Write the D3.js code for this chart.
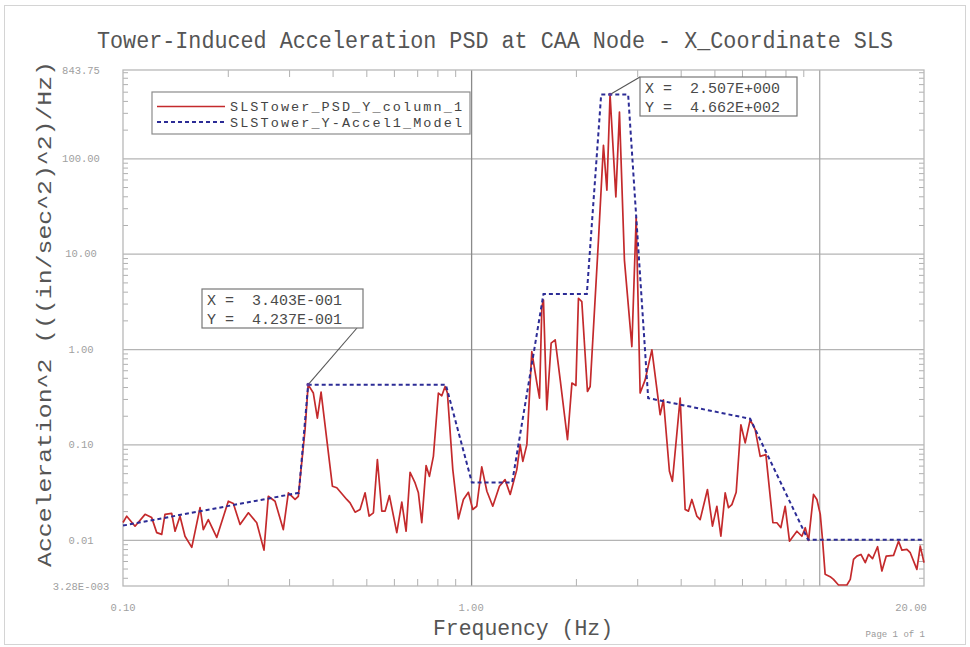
<!DOCTYPE html>
<html>
<head>
<meta charset="utf-8">
<script src="https://cdn.jsdelivr.net/npm/d3@7"></script>
<style>
body { margin: 0; background: #fff; }
text { font-family: "Liberation Mono", "DejaVu Sans Mono", monospace; }
</style>
</head>
<body>
<div class="content"></div>
<script>
// measured trace (Hz, (in/sec^2)^2/Hz)
const psdFreq = [0.100,0.1025,0.1083,0.1157,0.1209,0.1250,0.1292,0.1320,0.1380,0.1411,0.1458,0.1507,0.1576,0.1665,0.1701,0.1758,0.1859,0.2007,0.2075,0.2169,0.2292,0.2422,0.2541,0.2615,0.2734,0.2887,0.2985,0.3121,0.3189,0.3334,0.3403,0.3522,0.3617,0.3707,0.3995,0.4113,0.4393,0.4490,0.4642,0.4798,0.4960,0.5093,0.5240,0.5380,0.5540,0.5662,0.5825,0.6117,0.6323,0.6505,0.6679,0.6904,0.7056,0.7216,0.7425,0.7589,0.7792,0.8054,0.8238,0.8420,0.8549,0.8860,0.9194,0.9504,0.9822,1.011,1.038,1.073,1.110,1.154,1.206,1.252,1.295,1.353,1.383,1.408,1.446,1.494,1.545,1.572,1.597,1.614,1.650,1.698,1.744,1.803,1.892,1.948,2.000,2.034,2.080,2.159,2.198,2.322,2.400,2.455,2.507,2.605,2.668,2.757,2.896,2.980,3.059,3.162,3.306,3.492,3.569,3.713,3.787,3.986,4.120,4.211,4.307,4.452,4.550,4.775,4.936,5.082,5.218,5.369,5.488,5.612,5.774,5.957,6.129,6.334,6.548,6.768,7.028,7.362,7.558,7.761,7.985,8.215,8.628,8.918,9.117,9.318,9.630,9.849,10.07,10.22,10.40,10.75,10.99,11.36,12.01,12.28,12.55,12.83,13.18,13.56,13.86,14.23,14.71,15.14,15.58,16.35,16.90,17.28,17.86,18.26,19.08,19.51,20.00];
const psdValue = [0.0152,0.0177,0.0139,0.0185,0.0171,0.0119,0.0114,0.0185,0.0189,0.0123,0.0177,0.0109,0.00833,0.0218,0.0128,0.0163,0.0106,0.0254,0.0240,0.0145,0.0192,0.0151,0.00780,0.0286,0.0254,0.0128,0.0311,0.0265,0.0286,0.143,0.4237,0.346,0.189,0.354,0.0365,0.0351,0.0265,0.0244,0.0195,0.0208,0.0311,0.0177,0.0192,0.0693,0.0200,0.0200,0.0291,0.0119,0.0248,0.0123,0.0511,0.0395,0.0311,0.0151,0.0600,0.0463,0.0751,0.346,0.324,0.405,0.346,0.0545,0.0166,0.0265,0.0315,0.0208,0.0225,0.0582,0.0323,0.0225,0.0365,0.0428,0.0299,0.0545,0.0995,0.0665,0.0995,0.942,0.440,0.306,2.79,3.27,0.231,1.153,1.248,0.476,0.112,0.440,0.415,3.41,3.14,0.359,0.405,13.9,136.8,46.3,466.2,39.4,305,8.57,1.062,24.1,0.346,0.476,0.982,0.205,0.294,0.0524,0.0411,0.306,0.0208,0.0200,0.0265,0.0177,0.0163,0.0337,0.0139,0.0225,0.0109,0.0311,0.0217,0.0234,0.0315,0.161,0.104,0.182,0.143,0.0751,0.0782,0.0151,0.0151,0.0134,0.0225,0.00968,0.0123,0.0109,0.0134,0.00986,0.0299,0.0265,0.0185,0.0101,0.00435,0.00411,0.00385,0.00336,0.00336,0.00385,0.00624,0.00675,0.00703,0.00576,0.00703,0.00634,0.00847,0.00471,0.00675,0.00687,0.00968,0.00780,0.00794,0.00733,0.00490,0.00859,0.00576];

// model envelope
const modelFreq = [0.10, 0.320, 0.3403, 0.846, 1.005, 1.312, 1.614, 2.150, 2.364, 2.826, 3.226, 6.334, 9.29, 20.0];
const modelValue = [0.0141, 0.0311, 0.4237, 0.4237, 0.040, 0.040, 3.78, 3.78, 466.2, 466.2, 0.306, 0.186, 0.010, 0.010];

const seriesNames = ["SLSTower_PSD_Y_column_1", "SLSTower_Y-Accel1_Model"];

const xTickValues = [0.1, 1, 20];
const xTickLabels = ["0.10", "1.00", "20.00"];
const yTickValues = [0.00328, 0.01, 0.1, 1, 10, 100, 843.75];
const yTickLabels = ["3.28E-003", "0.01", "0.10", "1.00", "10.00", "100.00", "843.75"];

const cursorFreq = [0.3403, 2.507];
const cursorValue = [0.4237, 466.2];

const W = 970, H = 647;
const margin = { top: 70, right: 46, bottom: 61, left: 123 };
const plotW = W - margin.left - margin.right;
const plotH = H - margin.top - margin.bottom;

const svg = d3.select('.content')
    .append('svg')
    .attr('width', W)
    .attr('height', H);

// page frame
svg.append('rect')
    .attr('x', 4.5).attr('y', 5.5)
    .attr('width', 961).attr('height', 639)
    .attr('fill', 'none').attr('stroke', '#d4d4d4');

let x = d3.scaleLog().domain([0.1, 20]).range([margin.left, margin.left + plotW]);
let y = d3.scaleLog().domain([0.00328, 843.75]).range([margin.top + plotH, margin.top]);

// minor tick values (2..9 in each decade)
let minorX = [], minorY = [];
for (let e = -1; e <= 1; e++) for (let k = 2; k <= 9; k++) {
    let v = k * Math.pow(10, e);
    if (v < 20) minorX.push(v);
}
for (let e = -3; e <= 2; e++) for (let k = 2; k <= 9; k++) {
    let v = k * Math.pow(10, e);
    if (v > 0.00328 && v < 843.75) minorY.push(v);
}

// grid
svg.append('g')
    .attr('transform', `translate(${margin.left},0)`)
    .call(d3.axisLeft(y).tickValues([0.01, 0.1, 1, 10, 100]).tickSize(-plotW).tickFormat(''))
    .call(g => g.select('.domain').remove())
    .call(g => g.selectAll('line').attr('stroke', '#b4b4b4').attr('stroke-width', 1.3));

svg.append('g')
    .attr('transform', `translate(0,${margin.top + plotH})`)
    .call(d3.axisBottom(x).tickValues([1, 10]).tickSize(-plotH).tickFormat(''))
    .call(g => g.select('.domain').remove())
    .call(g => g.selectAll('line').attr('stroke', (d) => d === 1 ? '#8a8a8a' : '#a8a8a8').attr('stroke-width', 1.3));

// minor ticks on all four sides
const tickCol = '#b0b0b0';
svg.append('g').attr('transform', `translate(${margin.left},0)`)
    .call(d3.axisLeft(y).tickValues(minorY).tickSize(-5).tickFormat(''))
    .call(g => g.select('.domain').remove())
    .call(g => g.selectAll('line').attr('stroke', tickCol));
svg.append('g').attr('transform', `translate(${margin.left + plotW},0)`)
    .call(d3.axisRight(y).tickValues(minorY).tickSize(-5).tickFormat(''))
    .call(g => g.select('.domain').remove())
    .call(g => g.selectAll('line').attr('stroke', tickCol));
svg.append('g').attr('transform', `translate(0,${margin.top})`)
    .call(d3.axisTop(x).tickValues(minorX).tickSize(-7).tickFormat(''))
    .call(g => g.select('.domain').remove())
    .call(g => g.selectAll('line').attr('stroke', tickCol));
svg.append('g').attr('transform', `translate(0,${margin.top + plotH})`)
    .call(d3.axisBottom(x).tickValues(minorX).tickSize(-7).tickFormat(''))
    .call(g => g.select('.domain').remove())
    .call(g => g.selectAll('line').attr('stroke', tickCol));

// plot frame
svg.append('rect')
    .attr('x', margin.left).attr('y', margin.top)
    .attr('width', plotW).attr('height', plotH)
    .attr('fill', 'none').attr('stroke', '#b8b8b8').attr('stroke-width', 1.3);

// tick labels
svg.selectAll('.yLabel')
    .data(yTickValues)
    .enter().append('text')
    .attr('class', 'yLabel')
    .attr('x', 81)
    .attr('y', d => y(d))
    .attr('dy', '0.35em')
    .attr('text-anchor', 'middle')
    .attr('font-size', 10.5)
    .attr('fill', '#a0a0a0')
    .text((d, i) => yTickLabels[i]);

svg.selectAll('.xLabel')
    .data(xTickValues)
    .enter().append('text')
    .attr('class', 'xLabel')
    .attr('x', (d, i) => i === 2 ? x(d) - 13 : x(d))
    .attr('y', 607)
    .attr('dy', '0.35em')
    .attr('text-anchor', 'middle')
    .attr('font-size', 10.5)
    .attr('fill', '#a0a0a0')
    .text((d, i) => xTickLabels[i]);

// series
const psd = psdFreq.map((f, i) => ({ f: f, v: psdValue[i] }));
const model = modelFreq.map((f, i) => ({ f: f, v: modelValue[i] }));

let line = d3.line().x(d => x(d.f)).y(d => y(d.v));

svg.append('path')
    .datum(psd)
    .attr('d', line)
    .attr('fill', 'none')
    .attr('stroke', '#c42a2c')
    .attr('stroke-width', 1.7)
    .attr('stroke-linejoin', 'round');

svg.append('path')
    .datum(model)
    .attr('d', line)
    .attr('fill', 'none')
    .attr('stroke', '#2c2c96')
    .attr('stroke-width', 2)
    .attr('stroke-dasharray', '4,3');

// legend
const lg = svg.append('g');
lg.append('rect')
    .attr('x', 152).attr('y', 92).attr('width', 318).attr('height', 42)
    .attr('fill', '#fff').attr('stroke', '#8c8c8c').attr('stroke-width', 1.2);
lg.append('line').attr('x1', 157).attr('x2', 225).attr('y1', 106.5).attr('y2', 106.5)
    .attr('stroke', '#c42a2c').attr('stroke-width', 1.7);
lg.append('line').attr('x1', 157).attr('x2', 225).attr('y1', 122).attr('y2', 122)
    .attr('stroke', '#2c2c96').attr('stroke-width', 2).attr('stroke-dasharray', '4,3');
lg.selectAll('.lgText')
    .data(seriesNames)
    .enter().append('text')
    .attr('x', 230)
    .attr('y', (d, i) => 111 + i * 15.5)
    .attr('font-size', 13.5)
    .attr('textLength', 232)
    .attr('fill', '#444')
    .text(d => d);

// cursor readouts
function sci(v) {
    let e = Math.floor(Math.log10(v));
    let m = v / Math.pow(10, e);
    if (m >= 9.9995) { m /= 10; e += 1; }
    return m.toFixed(3) + 'E' + (e < 0 ? '-' : '+') + String(Math.abs(e)).padStart(3, '0');
}

const boxes = [
    { bx: 202, by: 289, bw: 161, bh: 39, ax: 357, ay: 328 },
    { bx: 640, by: 77, bw: 157, bh: 39, ax: 640, ay: 77 }
];

boxes.forEach((b, i) => {
    let px = x(cursorFreq[i]), py = y(cursorValue[i]);
    svg.append('line')
        .attr('x1', px).attr('y1', py).attr('x2', b.ax).attr('y2', b.ay)
        .attr('stroke', '#555').attr('stroke-width', 1.1);
    svg.append('rect')
        .attr('x', b.bx).attr('y', b.by).attr('width', b.bw).attr('height', b.bh)
        .attr('fill', '#fff').attr('stroke', '#777').attr('stroke-width', 1.2);
    svg.append('text')
        .attr('x', b.bx + 5).attr('y', b.by + 16)
        .attr('font-size', 15).attr('fill', '#4a4a4a')
        .style('white-space', 'pre')
        .text('X =  ' + sci(cursorFreq[i]));
    svg.append('text')
        .attr('x', b.bx + 5).attr('y', b.by + 35)
        .attr('font-size', 15).attr('fill', '#4a4a4a')
        .style('white-space', 'pre')
        .text('Y =  ' + sci(cursorValue[i]));
    svg.append('circle')
        .attr('cx', px).attr('cy', py).attr('r', 1.8)
        .attr('fill', '#5a3a9a');
});

// titles
svg.append('text')
    .attr('x', 495).attr('y', 48)
    .attr('text-anchor', 'middle')
    .attr('font-size', 23)
    .attr('textLength', 796)
    .attr('lengthAdjust', 'spacingAndGlyphs')
    .attr('fill', '#555')
    .text('Tower-Induced Acceleration PSD at CAA Node - X_Coordinate SLS');

svg.append('text')
    .attr('x', 523).attr('y', 635)
    .attr('text-anchor', 'middle')
    .attr('font-size', 22)
    .attr('textLength', 180)
    .attr('lengthAdjust', 'spacingAndGlyphs')
    .attr('fill', '#555')
    .text('Frequency (Hz)');

svg.append('text')
    .attr('transform', 'translate(51,314) rotate(-90)')
    .attr('text-anchor', 'middle')
    .attr('font-size', 21)
    .attr('textLength', 506)
    .attr('lengthAdjust', 'spacingAndGlyphs')
    .attr('fill', '#555')
    .text('Acceleration^2 (((in/sec^2)^2)/Hz)');

svg.append('text')
    .attr('x', 925).attr('y', 637)
    .attr('text-anchor', 'end')
    .attr('font-size', 9)
    .attr('fill', '#9a9a9a')
    .text('Page 1 of 1');
</script>
</body>
</html>
